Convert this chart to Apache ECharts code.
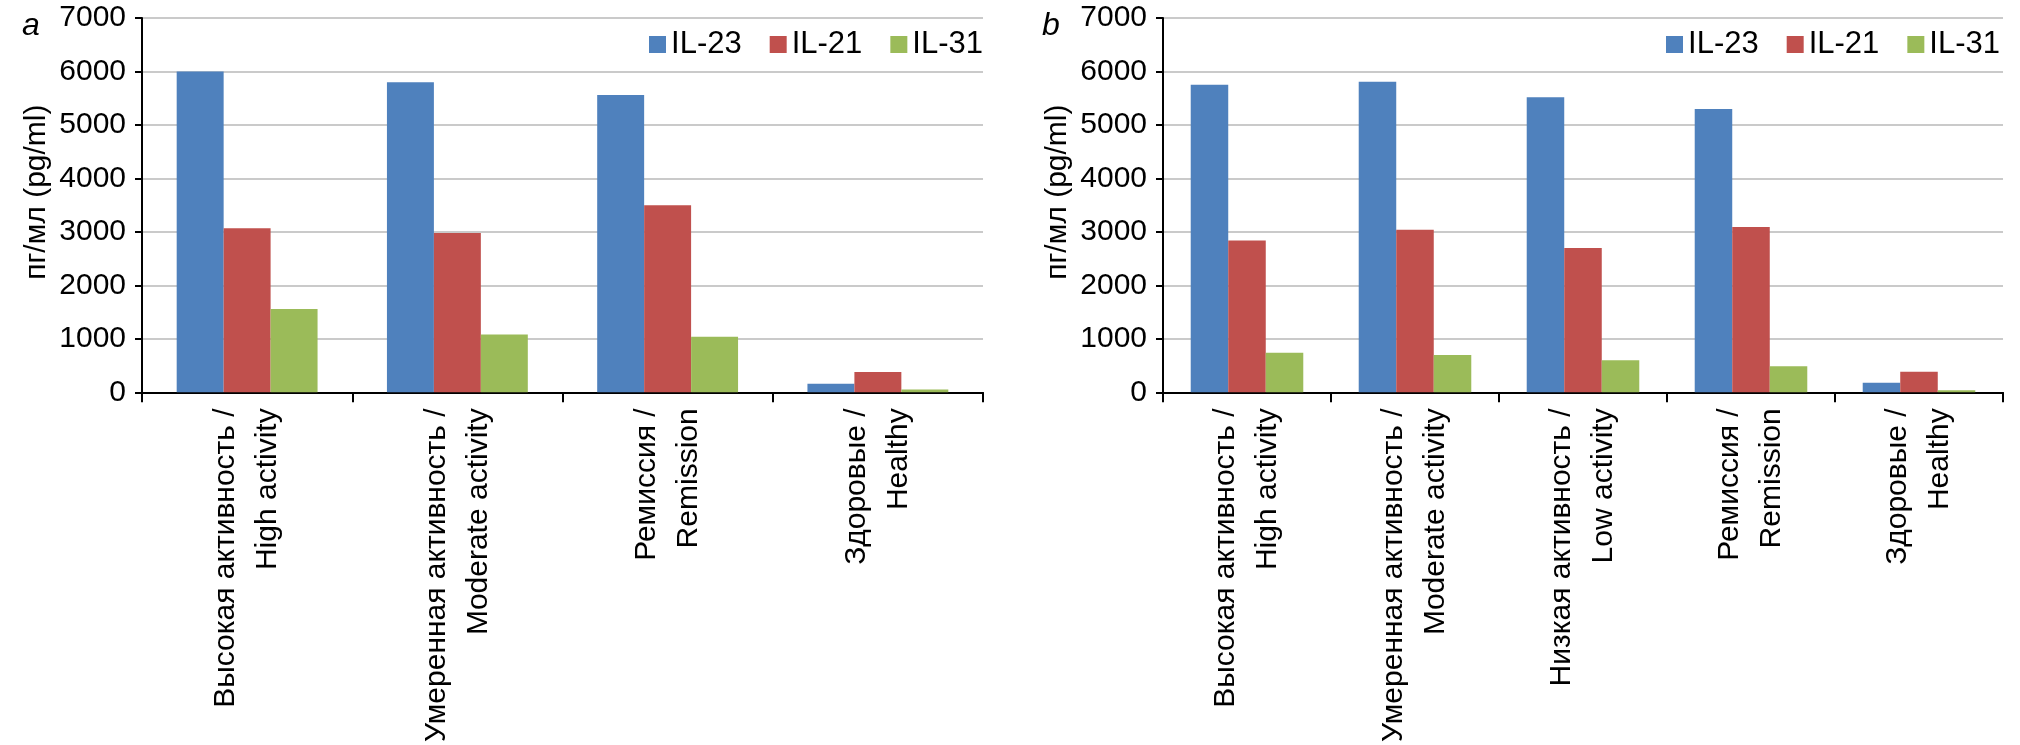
<!DOCTYPE html>
<html>
<head>
<meta charset="utf-8">
<script src="https://cdn.jsdelivr.net/npm/echarts@6/dist/echarts.min.js"></script>
<style>
html,body{margin:0;padding:0;background:#fff;}
#chart{width:2020px;height:745px;}
</style>
</head>
<body>
<div id="chart"></div>
<script>
// ---- data ----
const seriesNames = ['IL-23', 'IL-21', 'IL-31'];
const categoriesA = ['Высокая активность /\nHigh activity', 'Умеренная активность /\nModerate activity', 'Ремиссия /\nRemission', 'Здоровые /\nHealthy'];
const categoriesB = ['Высокая активность /\nHigh activity', 'Умеренная активность /\nModerate activity', 'Низкая активность /\nLow activity', 'Ремиссия /\nRemission', 'Здоровые /\nHealthy'];
const il23A = [6000, 5800, 5560, 160];
const il21A = [3070, 2980, 3500, 380];
const il31A = [1560, 1080, 1040, 55];
const il23B = [5750, 5810, 5520, 5300, 180];
const il21B = [2840, 3040, 2700, 3090, 385];
const il31B = [740, 700, 600, 490, 40];
const yMin = 0, yMax = 7000, yStep = 1000;
const yName = 'пг/мл (pg/ml)';
const panelLabels = ['a', 'b'];

// ---- styles ----
const colors = ['#4f81bd', '#c0504d', '#9bbb59'];
const sans = "'Liberation Sans', Arial, sans-serif";

function xAxis(idx, cats) {
  return {
    type: 'category', gridIndex: idx, data: cats,
    axisLine: {lineStyle: {color: '#000', width: 2}},
    axisTick: {show: true, length: 10, alignWithLabel: false, lineStyle: {color: '#000', width: 2}},
    axisLabel: {interval: 0, rotate: 90, margin: 16, fontSize: 30, lineHeight: 42, color: '#000', fontFamily: sans}
  };
}
function yAxis(idx) {
  return {
    type: 'value', gridIndex: idx, min: yMin, max: yMax, interval: yStep,
    name: yName, nameLocation: 'middle', nameGap: 90,
    nameTextStyle: {fontSize: 30, color: '#000', fontFamily: sans, padding: [0, 0, 0, 26]},
    axisLine: {show: true, lineStyle: {color: '#000', width: 2}},
    axisTick: {show: true, length: 7, inside: false, lineStyle: {color: '#000', width: 2}},
    axisLabel: {margin: 16, fontSize: 30, color: '#000', fontFamily: sans, formatter: v => String(v)},
    splitLine: {show: true, lineStyle: {color: '#b8b8b8', width: 1.5}}
  };
}
function legend(right) {
  return {
    data: seriesNames, right: right, top: 29, padding: 0, orient: 'horizontal',
    icon: 'rect', itemWidth: 17, itemHeight: 17, itemGap: 28,
    textStyle: {fontSize: 31, color: '#000', fontFamily: sans}
  };
}
const dataA = [il23A, il21A, il31A];
const dataB = [il23B, il21B, il31B];
const series = [];
[dataA, dataB].forEach((set, g) => {
  set.forEach((vals, i) => {
    series.push({
      name: seriesNames[i], type: 'bar', xAxisIndex: g, yAxisIndex: g, data: vals,
      itemStyle: {color: colors[i]}, barGap: '0%', barCategoryGap: '33%'
    });
  });
});

const chart = echarts.init(document.getElementById('chart'), null, {renderer: 'canvas'});
chart.setOption({
  animation: false,
  backgroundColor: '#fff',
  title: [
    {text: panelLabels[0], left: 17, top: 5, textStyle: {fontSize: 32, fontStyle: 'italic', fontWeight: 'normal', color: '#000', fontFamily: sans}},
    {text: panelLabels[1], left: 1037, top: 5, textStyle: {fontSize: 32, fontStyle: 'italic', fontWeight: 'normal', color: '#000', fontFamily: sans}}
  ],
  legend: [legend(1037), legend(20)],
  grid: [
    {left: 142, right: 1037, top: 18, bottom: 345, containLabel: false},
    {left: 1163, right: 17, top: 18, bottom: 345, containLabel: false}
  ],
  xAxis: [xAxis(0, categoriesA), xAxis(1, categoriesB)],
  yAxis: [yAxis(0), yAxis(1)],
  series: series
});
</script>
</body>
</html>
